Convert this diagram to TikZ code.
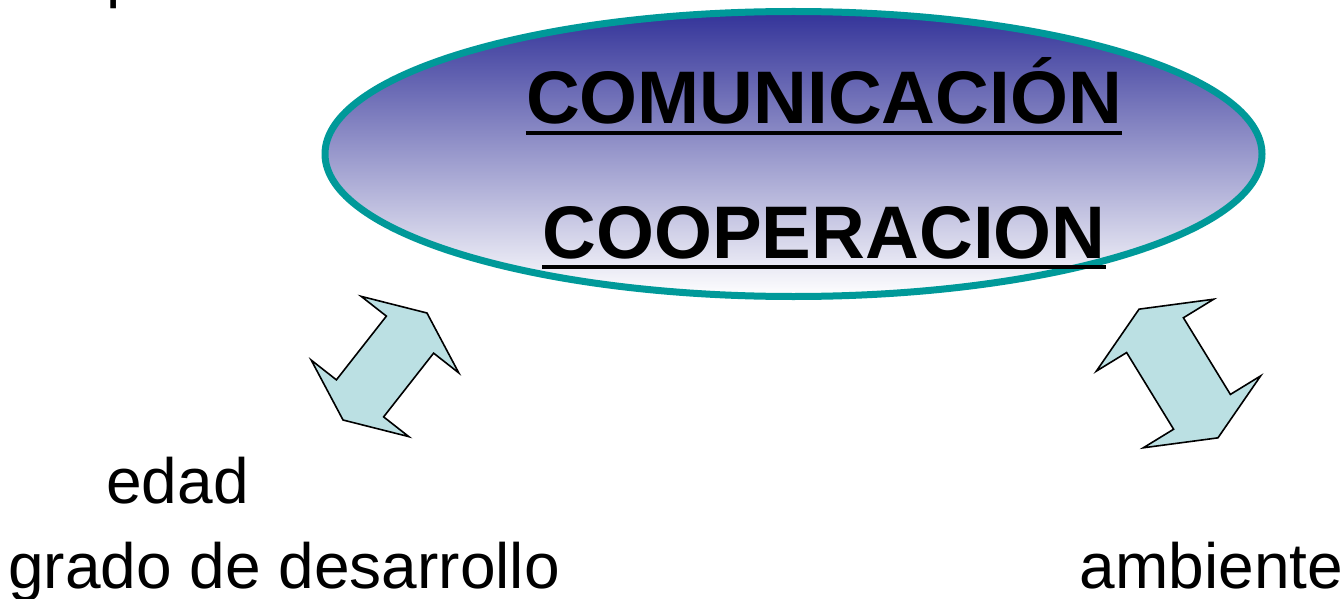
\documentclass[tikz,border=0pt]{standalone}
\usepackage{fontspec}
\setmainfont{Liberation Sans}
\usepackage{tikz}
\usetikzlibrary{shapes.geometric}
\definecolor{ringteal}{RGB}{0,153,153}
\definecolor{deepblue}{RGB}{51,51,153}
\definecolor{midblue}{RGB}{185,185,218}
\definecolor{paleblue}{RGB}{187,224,227}

\tikzset{
twoway/.pic={
\draw[fill=paleblue, line width=1.6pt, line join=miter]
  (68,0) -- (40.5,62) -- (40.5,30) -- (-40.5,30) -- (-40.5,62) -- (-68,0)
  -- (-40.5,-62) -- (-40.5,-30) -- (40.5,-30) -- (40.5,-62) -- cycle;
}}

\begin{document}
\begin{tikzpicture}[x=1pt, y=-1pt, thick,
bubble/.style={ellipse, draw=ringteal, line width=7pt, top color=deepblue, middle color=midblue, bottom color=white, minimum width=937pt, minimum height=285pt, inner sep=0pt},
heading/.style={font=\fontsize{74.5pt}{90pt}\selectfont\bfseries, inner sep=0pt, anchor=base},
word/.style={font=\fontsize{64pt}{77pt}\selectfont, inner sep=0pt, anchor=base west},
underbar/.style={line width=4pt}]
\useasboundingbox (0,0) rectangle (1344,599);
\node[bubble] (ring) at (793.5,154) {};
\node[heading] (com) at (824,124) {COMUNICACIÓN};
\node[heading] (coop) at ([yshift=-134pt]com.base) {COOPERACION};
\draw[underbar] ([yshift=-9pt]com.base west) -- ([yshift=-9pt]com.base east);
\draw[underbar] ([yshift=-9pt]coop.base west) -- ([yshift=-9pt]coop.base east);
\node[word] (cut) at (105.8,-4.4) {p};
\node[word] (age) at (106,503) {edad};
\node[word] (growth) at (8,588) {grado de desarrollo};
\node[word] (milieu) at (1079.5,588) {ambiente};
\pic[rotate=51.9] at (385,366.5) {twoway};
\pic[rotate=121.5, scale=1.11] at (1178.5,373.5) {twoway};
\end{tikzpicture}
\end{document}
